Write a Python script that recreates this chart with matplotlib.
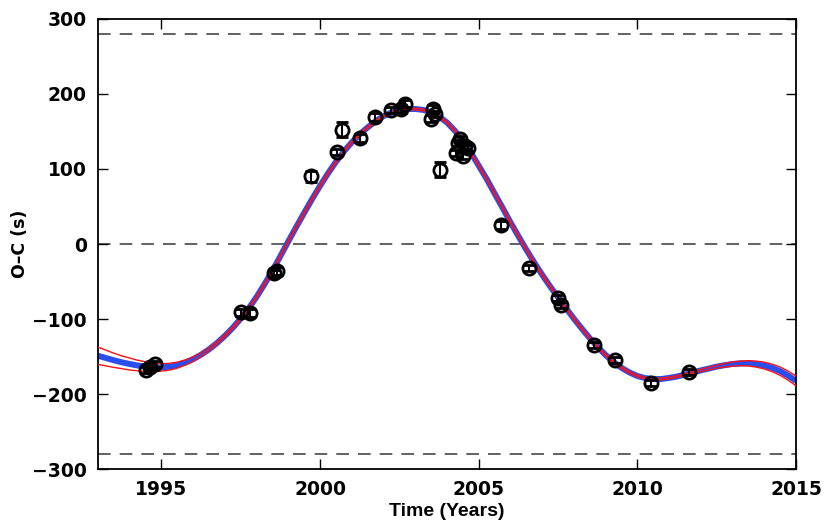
import numpy as np
import matplotlib
matplotlib.use("Agg")
import matplotlib.pyplot as plt

fit_t = np.arange(1993.0, 2015.01, 0.25)
fit_best = [-149, -152, -155, -157.7, -160, -162, -163.5, -164.5, -164.5, -163.6,
            -161.5, -158.1, -153.5, -147.6, -140.5, -132.1, -122.5, -111.7, -99.5, -85.8,
            -70.5, -53.6, -35.5, -16.2, 3.5, 22.7, 41.5, 59.9, 77.5, 94.1,
            109.5, 123.3, 135.5, 146.2, 155.5, 163.7, 170.5, 175.3, 178.5, 180,
            180, 178.8, 175.5, 169.9, 162, 151, 137.5, 122.2, 104.5, 86.8,
            67.5, 48.5, 29, 10.6, -7.5, -24.6, -41, -56.4, -71, -85.5,
            -99.5, -112.8, -125.5, -137.2, -148, -157.1, -165, -171.2, -176, -178.8,
            -180, -180, -178.5, -176.7, -174, -171.5, -168.5, -166.1, -163.5, -161.6,
            -160, -159.2, -159, -160.1, -162, -165.2, -169.5, -175.4, -182.5]
# half-width of the red envelope around the model
fit_spread = ([11.5, 10.5, 9.5, 8.5, 8, 7, 6.5, 5.5, 5, 4.5, 4, 3.5, 3, 2.5, 2, 1.8, 1.5]
              + [1.2] * 59
              + [1.5, 1.7, 2, 2.4, 2.8, 3.1, 3.5, 4, 4.5, 5, 5.5, 6, 6.5])

# timing residuals
obs_t = [1994.5, 1994.65, 1994.8, 1997.5, 1997.8, 1998.55, 1998.65, 1999.72, 2000.53, 2000.69,
         2001.25, 2001.72, 2002.25, 2002.56, 2002.69, 2003.5, 2003.56, 2003.62, 2003.78,
         2004.28, 2004.34, 2004.41, 2004.5, 2004.56, 2004.66, 2005.69, 2006.59, 2007.5,
         2007.59, 2008.62, 2009.31, 2010.44, 2011.62]
obs_oc = [-168, -164, -160, -91, -92, -39, -36, 90, 123, 152,
          141, 169, 179, 180, 187, 167, 180, 173, 99,
          121, 135, 140, 117, 131, 128, 25, -32, -72,
          -81, -134, -154, -185, -170]
obs_err = [4, 4, 4, 5, 5, 5, 5, 7, 4, 10,
           5, 5, 4, 5, 5, 5, 5, 4, 10,
           4, 4, 4, 4, 4, 4, 5, 4, 4,
           4, 4, 4, 4, 4]

ref_levels = [280, 0, -280]

best = np.array(fit_best)
spread = np.array(fit_spread)

fig = plt.figure(figsize=(8.3, 5.27), dpi=100)
ax = fig.add_axes([0.118, 0.110, 0.841, 0.854])

for lv in ref_levels:
    ax.axhline(lv, color='#555555', lw=1.3, dashes=(7, 5), zorder=1)

ax.plot(fit_t, best, color='#2a4df0', lw=4.3, solid_capstyle='butt', zorder=2)
ax.plot(fit_t, best + spread, color='#ff1010', lw=1.0, zorder=3)
ax.plot(fit_t, best - spread, color='#ff1010', lw=1.0, zorder=3)

ax.errorbar(obs_t, obs_oc, yerr=obs_err, fmt='o', mfc='none', mec='black', mew=2.0,
            ms=9.5, ecolor='black', elinewidth=1.5, capsize=4, capthick=1.5, zorder=4)

ax.set_xlim(1993, 2015)
ax.set_ylim(-300, 300)
ax.set_xticks([1995, 2000, 2005, 2010, 2015])
ax.set_yticks([-300, -200, -100, 0, 100, 200, 300])
ax.tick_params(direction='in', length=7, width=1.0, top=True, right=True,
               labelsize=13.5, pad=8)
for lab in ax.get_xticklabels() + ax.get_yticklabels():
    lab.set_fontweight('bold')
for sp in ax.spines.values():
    sp.set_linewidth(1.3)

ax.set_xlabel("Time (Years)", fontsize=14, fontweight='bold', family='Liberation Sans', labelpad=3)
ax.set_ylabel("O\u2013C (s)", fontsize=12.5, fontweight='bold', labelpad=2)

fig.savefig("out.png", dpi=100)
